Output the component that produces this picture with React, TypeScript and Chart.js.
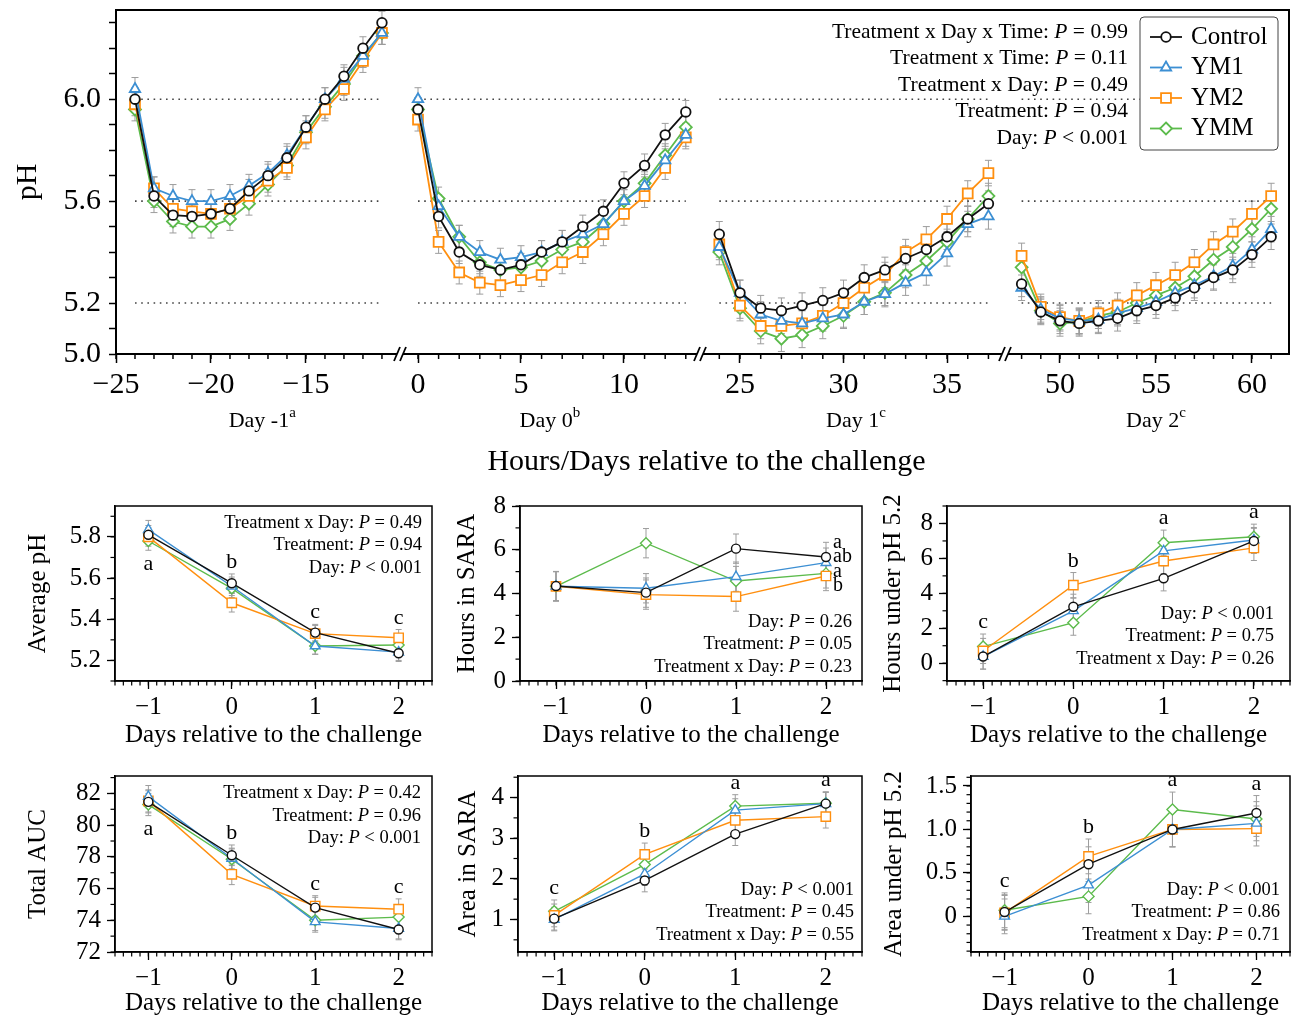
import React, { useEffect, useRef } from 'react';
import { Chart, registerables } from 'chart.js';

Chart.register(...registerables);

const FONT = '"Liberation Serif", "Times New Roman", serif';
const fnt = (size: number, italic = false) => `${italic ? 'italic ' : ''}${size}px ${FONT}`;

// ---------------- series ----------------
const seriesNames = ['Control', 'YM1', 'YM2', 'YMM'];
const seriesColors = ['#111111', '#3c8fd3', '#ff8f0f', '#5cbb4c'];
const seriesMarkers = ['circle', 'triangle', 'rect', 'rectRot'];

// ---------------- top panel: hourly pH ----------------
const hoursDayM1 = [-24, -23, -22, -21, -20, -19, -18, -17, -16, -15, -14, -13, -12, -11];
const hoursDay0 = [0, 1, 2, 3, 4, 5, 6, 7, 8, 9, 10, 11, 12, 13];
const hoursDay1 = [24, 25, 26, 27, 28, 29, 30, 31, 32, 33, 34, 35, 36, 37];
const hoursDay2 = [48, 49, 50, 51, 52, 53, 54, 55, 56, 57, 58, 59, 60, 61];

const phControlDayM1 = [6.0, 5.62, 5.545, 5.54, 5.55, 5.57, 5.64, 5.7, 5.77, 5.89, 6.0, 6.09, 6.2, 6.3];
const phYM1DayM1 = [6.04, 5.65, 5.62, 5.6, 5.6, 5.62, 5.66, 5.71, 5.78, 5.89, 6.0, 6.08, 6.17, 6.26];
const phYM2DayM1 = [5.98, 5.65, 5.57, 5.56, 5.55, 5.57, 5.62, 5.68, 5.73, 5.85, 5.96, 6.04, 6.15, 6.26];
const phYMMDayM1 = [5.96, 5.6, 5.52, 5.5, 5.5, 5.53, 5.59, 5.665, 5.74, 5.87, 5.97, 6.06, 6.17, 6.26];

const phControlDay0 = [5.96, 5.54, 5.4, 5.35, 5.33, 5.35, 5.4, 5.44, 5.5, 5.56, 5.67, 5.74, 5.86, 5.95];
const phYM1Day0 = [6.0, 5.58, 5.46, 5.4, 5.37, 5.38, 5.4, 5.44, 5.47, 5.51, 5.6, 5.66, 5.76, 5.86];
const phYM2Day0 = [5.92, 5.44, 5.32, 5.28, 5.27, 5.29, 5.31, 5.36, 5.4, 5.47, 5.55, 5.62, 5.73, 5.85];
const phYMMDay0 = [5.96, 5.61, 5.46, 5.36, 5.33, 5.34, 5.365, 5.41, 5.44, 5.51, 5.6, 5.67, 5.78, 5.89];

const phControlDay1 = [5.47, 5.24, 5.18, 5.17, 5.19, 5.21, 5.24, 5.3, 5.33, 5.375, 5.41, 5.46, 5.53, 5.59];
const phYM1Day1 = [5.42, 5.24, 5.155, 5.13, 5.12, 5.14, 5.155, 5.205, 5.235, 5.28, 5.32, 5.395, 5.51, 5.54];
const phYM2Day1 = [5.43, 5.19, 5.11, 5.11, 5.12, 5.15, 5.2, 5.26, 5.31, 5.4, 5.45, 5.53, 5.63, 5.71];
const phYMMDay1 = [5.4, 5.18, 5.09, 5.06, 5.075, 5.11, 5.15, 5.205, 5.24, 5.31, 5.365, 5.44, 5.53, 5.62];

const phControlDay2 = [5.275, 5.165, 5.13, 5.12, 5.13, 5.14, 5.17, 5.19, 5.22, 5.26, 5.3, 5.33, 5.39, 5.46];
const phYM1Day2 = [5.26, 5.175, 5.14, 5.13, 5.135, 5.16, 5.18, 5.205, 5.24, 5.27, 5.305, 5.345, 5.41, 5.49];
const phYM2Day2 = [5.385, 5.185, 5.145, 5.13, 5.16, 5.19, 5.23, 5.27, 5.31, 5.36, 5.43, 5.48, 5.55, 5.62];
const phYMMDay2 = [5.34, 5.17, 5.12, 5.125, 5.15, 5.165, 5.2, 5.23, 5.26, 5.305, 5.37, 5.42, 5.49, 5.57];

const topSE = [0.045, 0.045, 0.05, 0.05];
const topThresholds = [5.2, 5.6, 6.0];
const topYLabelled = [5.0, 5.2, 5.6, 6.0];
const dayLabels = [['Day -1', 'a'], ['Day 0', 'b'], ['Day 1', 'c'], ['Day 2', 'c']];
const dayLabelHours = [-17.3, 6.4, 30.6, 55.0];
const topStats = [
  ['Treatment x Day x Time', '=', '0.99'],
  ['Treatment x Time', '=', '0.11'],
  ['Treatment x Day', '=', '0.49'],
  ['Treatment', '=', '0.94'],
  ['Day', '<', '0.001'],
];

// ---------------- small panels ----------------
const days = [-1, 0, 1, 2];

const avgPhControl = [5.81, 5.575, 5.335, 5.235];
const avgPhYM1 = [5.835, 5.56, 5.27, 5.24];
const avgPhYM2 = [5.8, 5.48, 5.33, 5.31];
const avgPhYMM = [5.78, 5.55, 5.27, 5.275];
const avgPhSE = [0.045, 0.045, 0.04, 0.04];
const avgPhStats = [['Treatment x Day', '=', '0.49'], ['Treatment', '=', '0.94'], ['Day', '<', '0.001']];
const avgPhLetters = ['a', 'b', 'c', 'c'];
const avgPhLetterPos = ['below', 'above', 'above', 'above'];

const hoursSaraControl = [4.34, 4.04, 6.05, 5.67];
const hoursSaraYM1 = [4.33, 4.24, 4.77, 5.41];
const hoursSaraYM2 = [4.33, 3.95, 3.86, 4.8];
const hoursSaraYMM = [4.33, 6.3, 4.57, 4.92];
const hoursSaraSE = [0.67, 0.67, 0.67, 0.67];
const hoursSaraStats = [['Day', '=', '0.26'], ['Treatment', '=', '0.05'], ['Treatment x Day', '=', '0.23']];
const hoursSaraSideLetters = ['a', 'ab', 'a', 'b'];

const hoursUnderControl = [0.38, 3.23, 4.86, 7.0];
const hoursUnderYM1 = [0.38, 3.0, 6.43, 7.05];
const hoursUnderYM2 = [0.7, 4.47, 5.85, 6.6];
const hoursUnderYMM = [0.95, 2.32, 6.9, 7.24];
const hoursUnderSE = [0.72, 0.72, 0.72, 0.72];
const hoursUnderStats = [['Day', '<', '0.001'], ['Treatment', '=', '0.75'], ['Treatment x Day', '=', '0.26']];
const hoursUnderLetters = ['c', 'b', 'a', 'a'];

const aucControl = [81.47, 78.1, 74.8, 73.42];
const aucYM1 = [81.8, 77.9, 73.9, 73.48];
const aucYM2 = [81.53, 76.9, 74.9, 74.7];
const aucYMM = [81.3, 77.85, 74.0, 74.2];
const aucSE = [0.7, 0.65, 0.65, 0.65];
const aucStats = [['Treatment x Day', '=', '0.42'], ['Treatment', '=', '0.96'], ['Day', '<', '0.001']];
const aucLetters = ['a', 'b', 'c', 'c'];
const aucLetterPos = ['below', 'above', 'above', 'above'];

const areaSaraControl = [1.02, 1.96, 3.1, 3.85];
const areaSaraYM1 = [1.0, 2.12, 3.69, 3.85];
const areaSaraYM2 = [1.1, 2.6, 3.44, 3.53];
const areaSaraYMM = [1.2, 2.35, 3.79, 3.86];
const areaSaraSE = [0.28, 0.28, 0.28, 0.28];
const areaSaraStats = [['Day', '<', '0.001'], ['Treatment', '=', '0.45'], ['Treatment x Day', '=', '0.55']];
const areaSaraLetters = ['c', 'b', 'a', 'a'];

const areaUnderControl = [0.05, 0.6, 1.0, 1.19];
const areaUnderYM1 = [0.0, 0.36, 1.0, 1.07];
const areaUnderYM2 = [0.04, 0.69, 1.0, 1.01];
const areaUnderYMM = [0.07, 0.23, 1.23, 1.12];
const areaUnderSE = [0.2, 0.2, 0.2, 0.2];
const areaUnderStats = [['Day', '<', '0.001'], ['Treatment', '=', '0.86'], ['Treatment x Day', '=', '0.71']];
const areaUnderLetters = ['c', 'b', 'a', 'a'];

const allAbove = ['above', 'above', 'above', 'above'];

// ---------------- helpers ----------------
type Part = { t: string; it?: boolean; sup?: boolean };

function drawRich(ctx: any, parts: Part[], x: number, y: number, size: number, align: string) {
  const fonts = parts.map((p) => fnt(p.sup ? size * 0.68 : size, !!p.it));
  const widths = parts.map((p, i) => {
    ctx.font = fonts[i];
    return ctx.measureText(p.t).width;
  });
  const total = widths.reduce((a, b) => a + b, 0);
  let cx = align === 'right' ? x - total : align === 'center' ? x - total / 2 : x;
  ctx.textAlign = 'left';
  ctx.textBaseline = 'middle';
  ctx.fillStyle = '#000';
  parts.forEach((p, i) => {
    ctx.font = fonts[i];
    ctx.fillText(p.t, cx, p.sup ? y - size * 0.38 : y);
    cx += widths[i];
  });
}

function statParts(s: string[]): Part[] {
  return [{ t: s[0] + ': ' }, { t: 'P', it: true }, { t: ' ' + s[1] + ' ' + s[2] }];
}

function drawMarker(ctx: any, style: string, x: number, y: number, r: number) {
  ctx.beginPath();
  if (style === 'circle') {
    ctx.arc(x, y, r, 0, Math.PI * 2);
  } else if (style === 'triangle') {
    for (let i = 0; i < 3; i++) {
      const a = (i * 2 * Math.PI) / 3;
      const px = x + Math.sin(a) * r;
      const py = y - Math.cos(a) * r;
      if (i === 0) ctx.moveTo(px, py);
      else ctx.lineTo(px, py);
    }
    ctx.closePath();
  } else if (style === 'rect') {
    const s = r * Math.SQRT1_2;
    ctx.rect(x - s, y - s, 2 * s, 2 * s);
  } else {
    ctx.moveTo(x, y - r);
    ctx.lineTo(x + r, y);
    ctx.lineTo(x, y + r);
    ctx.lineTo(x - r, y);
    ctx.closePath();
  }
  ctx.fillStyle = '#fff';
  ctx.fill();
  ctx.stroke();
}

function drawErrorBars(chart: any, cap: number) {
  const ctx = chart.ctx;
  ctx.save();
  ctx.strokeStyle = '#9d9d9d';
  ctx.lineWidth = 1;
  chart.data.datasets.forEach((ds: any, i: number) => {
    if (!ds.errors) return;
    const meta = chart.getDatasetMeta(i);
    const ys = chart.scales[meta.yAxisID];
    meta.data.forEach((pt: any, j: number) => {
      const v = ds.data[j].y;
      const e = ds.errors[j];
      const y1 = ys.getPixelForValue(v + e);
      const y2 = ys.getPixelForValue(v - e);
      ctx.beginPath();
      ctx.moveTo(pt.x, y1);
      ctx.lineTo(pt.x, y2);
      ctx.moveTo(pt.x - cap, y1);
      ctx.lineTo(pt.x + cap, y1);
      ctx.moveTo(pt.x - cap, y2);
      ctx.lineTo(pt.x + cap, y2);
      ctx.stroke();
    });
  });
  ctx.restore();
}

function minorTicksX(ctx: any, scale: any, y: number, step: number, len: number) {
  const start = Math.ceil(scale.min / step - 1e-9);
  for (let i = start; i * step <= scale.max + 1e-9; i++) {
    const px = scale.getPixelForValue(i * step);
    ctx.beginPath();
    ctx.moveTo(px, y);
    ctx.lineTo(px, y + len);
    ctx.stroke();
  }
}

function minorTicksY(ctx: any, scale: any, x: number, step: number, len: number) {
  const start = Math.ceil(scale.min / step - 1e-9);
  for (let i = start; i * step <= scale.max + 1e-9; i++) {
    const py = scale.getPixelForValue(i * step);
    ctx.beginPath();
    ctx.moveTo(x, py);
    ctx.lineTo(x - len, py);
    ctx.stroke();
  }
}

const fmtSigned = (v: number) => (v < 0 ? '\u2212' + Math.abs(v) : String(v));

const fixY = (w: number) => (sc: any) => {
  sc.width = w;
  sc.paddingTop = 0;
  sc.paddingBottom = 0;
};
const fixX = (h: number) => (sc: any) => {
  sc.height = h;
  sc.paddingLeft = 0;
  sc.paddingRight = 0;
};

// ---------------- top chart ----------------
const segHours = [hoursDayM1, hoursDay0, hoursDay1, hoursDay2];
const segValues = [
  [phControlDayM1, phYM1DayM1, phYM2DayM1, phYMMDayM1],
  [phControlDay0, phYM1Day0, phYM2Day0, phYMMDay0],
  [phControlDay1, phYM1Day1, phYM2Day1, phYMMDay1],
  [phControlDay2, phYM1Day2, phYM2Day2, phYMMDay2],
];
const segAxes = [
  { min: -25, max: -10.05, weight: 284 },
  { min: -0.874, max: 13.69, weight: 300 },
  { min: 23.068, max: 37.8, weight: 305 },
  { min: 47.135, max: 61.93, weight: 284 },
];
const topRadius = [4.8, 6, 7, 6];

function topConfig(): any {
  const datasets: any[] = [];
  segHours.forEach((hrs, s) => {
    segValues[s].forEach((vals, k) => {
      datasets.push({
        label: seriesNames[k],
        data: hrs.map((h, i) => ({ x: h, y: vals[i] })),
        errors: hrs.map(() => topSE[s]),
        xAxisID: 'x' + s,
        yAxisID: 'y',
        borderColor: seriesColors[k],
        backgroundColor: '#fff',
        pointBorderColor: seriesColors[k],
        pointBackgroundColor: '#fff',
        pointStyle: seriesMarkers[k],
        pointRadius: topRadius[k],
        pointBorderWidth: 1.8,
        borderWidth: 1.8,
        tension: 0,
        order: k,
      });
    });
    topThresholds.forEach((t) => {
      datasets.push({
        data: [{ x: hrs[0], y: t }, { x: hrs[hrs.length - 1], y: t }],
        xAxisID: 'x' + s,
        yAxisID: 'y',
        borderColor: '#444',
        borderWidth: 1.6,
        borderDash: [1.6, 4.6],
        pointRadius: 0,
        order: 20,
      });
    });
  });

  const scales: any = {
    y: {
      position: 'left',
      min: 5.0,
      max: 6.35,
      afterFit: fixY(116),
      border: { display: true, color: '#000', width: 2 },
      grid: { drawOnChartArea: false, tickLength: 7, tickWidth: 1.5, tickColor: '#000' },
      ticks: {
        stepSize: 0.1,
        maxTicksLimit: 1000,
        autoSkip: false,
        includeBounds: false,
        color: '#000',
        padding: 8,
        font: { family: FONT, size: 30 },
        callback: (v: any) => (topYLabelled.some((t) => Math.abs(t - v) < 1e-6) ? Number(v).toFixed(1) : ''),
      },
      title: { display: true, text: 'pH', color: '#000', font: { family: FONT, size: 30 }, padding: { top: 10, bottom: 0 } },
    },
  };
  segAxes.forEach((a, s) => {
    scales['x' + s] = {
      type: 'linear',
      position: 'bottom',
      stack: 'hours',
      stackWeight: a.weight,
      min: a.min,
      max: a.max,
      offset: false,
      afterFit: fixX(131),
      border: { display: true, color: '#000', width: 2 },
      grid: { drawOnChartArea: false, tickLength: 9, tickWidth: 1.5, tickColor: '#000' },
      ticks: {
        stepSize: 5,
        maxTicksLimit: 1000,
        includeBounds: false,
        autoSkip: false,
        maxRotation: 0,
        color: '#000',
        padding: 4,
        font: { family: FONT, size: 30 },
        callback: (v: any) => fmtSigned(Number(v)),
      },
    };
  });

  const decor = {
    id: 'topDecor',
    beforeDatasetsDraw(chart: any) {
      drawErrorBars(chart, 3.5);
    },
    afterDraw(chart: any) {
      const ctx = chart.ctx;
      const a = chart.chartArea;
      ctx.save();
      ctx.strokeStyle = '#000';
      ctx.lineWidth = 2;
      ctx.strokeRect(a.left, a.top, a.right - a.left, a.bottom - a.top);
      ctx.lineWidth = 1.5;
      for (let s = 0; s < 4; s++) minorTicksX(ctx, chart.scales['x' + s], a.bottom, 1, 5);
      // axis breaks
      for (let s = 0; s < 3; s++) {
        const bx = chart.scales['x' + s].right;
        ctx.fillStyle = '#fff';
        ctx.fillRect(bx - 3, a.bottom - 3, 6, 6);
        ctx.strokeStyle = '#000';
        ctx.lineWidth = 1.8;
        [-3, 3].forEach((dx) => {
          ctx.beginPath();
          ctx.moveTo(bx + dx - 3, a.bottom + 7);
          ctx.lineTo(bx + dx + 3, a.bottom - 7);
          ctx.stroke();
        });
      }
      // day labels
      dayLabels.forEach((d, s) => {
        const x = chart.scales['x' + s].getPixelForValue(dayLabelHours[s]);
        drawRich(ctx, [{ t: d[0] }, { t: d[1], sup: true }], x, 421, 22, 'center');
      });
      drawRich(ctx, [{ t: 'Hours/Days relative to the challenge' }], (a.left + a.right) / 2 + 4, 462, 30, 'center');
      // legend
      const lw = 138;
      const lh = 133;
      const lx = a.right - 11 - lw;
      const ly = a.top + 7;
      ctx.fillStyle = '#fff';
      ctx.strokeStyle = '#444';
      ctx.lineWidth = 1;
      ctx.beginPath();
      ctx.roundRect(lx, ly, lw, lh, 4);
      ctx.fill();
      ctx.stroke();
      seriesNames.forEach((n, k) => {
        const y = ly + 20 + k * 30.5;
        ctx.strokeStyle = seriesColors[k];
        ctx.lineWidth = 1.8;
        ctx.beginPath();
        ctx.moveTo(lx + 10, y);
        ctx.lineTo(lx + 42, y);
        ctx.stroke();
        drawMarker(ctx, seriesMarkers[k], lx + 26, y, topRadius[k]);
        drawRich(ctx, [{ t: n }], lx + 51, y, 25, 'left');
      });
      // statistics
      topStats.forEach((st, i) => {
        drawRich(ctx, statParts(st), lx - 12, a.top + 22 + i * 26.5, 21.5, 'right');
      });
      ctx.restore();
    },
  };

  return {
    type: 'line',
    data: { datasets },
    options: {
      animation: false,
      responsive: false,
      events: [],
      layout: { padding: { top: 10, right: 9, left: 0, bottom: 0 } },
      plugins: { legend: { display: false }, tooltip: { enabled: false } },
      scales,
    },
    plugins: [decor],
  };
}

// ---------------- small charts ----------------
type Small = {
  canvas: number[];
  area: number[];
  yTitle: string;
  yTitleX: number;
  yMin: number;
  yMax: number;
  yStep: number;
  yMinor: number;
  yFmt: (v: number) => string;
  values: number[][];
  se: number[];
  letters?: string[];
  letterPos?: string[];
  sideLetters?: string[];
  stats: string[][];
  statsAnchor: string;
  statsDx: number;
  statsDy: number;
  xTitleCenterY: number;
};

const fmt1 = (v: number) => Number(v).toFixed(1);
const fmtInt = (v: number) => String(Math.round(v));
const fmtHalf = (v: number) => (Math.abs(v) < 1e-9 ? '0' : Number(v).toFixed(1));

const smallPanels: Small[] = [
  {
    canvas: [0, 490, 440, 270], area: [115, 436, 506, 681], yTitle: 'Average pH', yTitleX: 38,
    yMin: 5.1, yMax: 5.95, yStep: 0.2, yMinor: 0.1, yFmt: fmt1,
    values: [avgPhControl, avgPhYM1, avgPhYM2, avgPhYMM], se: avgPhSE,
    letters: avgPhLetters, letterPos: avgPhLetterPos,
    stats: avgPhStats, statsAnchor: 'top', statsDx: 10, statsDy: 17, xTitleCenterY: 735,
  },
  {
    canvas: [440, 490, 430, 270], area: [520, 867, 506, 681], yTitle: 'Hours in SARA', yTitleX: 467,
    yMin: 0, yMax: 8, yStep: 2, yMinor: 1, yFmt: fmtInt,
    values: [hoursSaraControl, hoursSaraYM1, hoursSaraYM2, hoursSaraYMM], se: hoursSaraSE,
    sideLetters: hoursSaraSideLetters,
    stats: hoursSaraStats, statsAnchor: 'bottom', statsDx: 10, statsDy: 14, xTitleCenterY: 735,
  },
  {
    canvas: [870, 490, 428, 270], area: [947, 1293, 506, 681], yTitle: 'Hours under pH 5.2', yTitleX: 893,
    yMin: -1.02, yMax: 9.0, yStep: 2, yMinor: 1, yFmt: fmtInt,
    values: [hoursUnderControl, hoursUnderYM1, hoursUnderYM2, hoursUnderYMM], se: hoursUnderSE,
    letters: hoursUnderLetters, letterPos: allAbove,
    stats: hoursUnderStats, statsAnchor: 'bottom', statsDx: 16, statsDy: 22, xTitleCenterY: 735,
  },
  {
    canvas: [0, 762, 440, 256], area: [115, 437, 776, 952], yTitle: 'Total AUC', yTitleX: 38,
    yMin: 72, yMax: 83.1, yStep: 2, yMinor: 1, yFmt: fmtInt,
    values: [aucControl, aucYM1, aucYM2, aucYMM], se: aucSE,
    letters: aucLetters, letterPos: aucLetterPos,
    stats: aucStats, statsAnchor: 'top', statsDx: 11, statsDy: 17.5, xTitleCenterY: 1004,
  },
  {
    canvas: [440, 762, 430, 256], area: [518, 867, 776, 952], yTitle: 'Area in SARA', yTitleX: 468,
    yMin: 0.2, yMax: 4.53, yStep: 1, yMinor: 0.5, yFmt: fmtInt,
    values: [areaSaraControl, areaSaraYM1, areaSaraYM2, areaSaraYMM], se: areaSaraSE,
    letters: areaSaraLetters, letterPos: allAbove,
    stats: areaSaraStats, statsAnchor: 'bottom', statsDx: 8, statsDy: 17, xTitleCenterY: 1004,
  },
  {
    canvas: [870, 762, 428, 256], area: [971, 1293, 776, 952], yTitle: 'Area under pH 5.2', yTitleX: 894,
    yMin: -0.41, yMax: 1.615, yStep: 0.5, yMinor: 0.1, yFmt: fmtHalf,
    values: [areaUnderControl, areaUnderYM1, areaUnderYM2, areaUnderYMM], se: areaUnderSE,
    letters: areaUnderLetters, letterPos: allAbove,
    stats: areaUnderStats, statsAnchor: 'bottom', statsDx: 10, statsDy: 17, xTitleCenterY: 1004,
  },
];

const smallRadius = [4.5, 5.6, 6.6, 5.5];

function smallConfig(sp: Small): any {
  const [cl, ct, cw, chh] = sp.canvas;
  const [al, ar, at, ab] = sp.area;
  const datasets = sp.values.map((vals, k) => ({
    label: seriesNames[k],
    data: days.map((d, i) => ({ x: d, y: vals[i] })),
    errors: sp.se,
    borderColor: seriesColors[k],
    backgroundColor: '#fff',
    pointBorderColor: seriesColors[k],
    pointBackgroundColor: '#fff',
    pointStyle: seriesMarkers[k],
    pointRadius: smallRadius[k],
    pointBorderWidth: 1.4,
    borderWidth: 1.4,
    tension: 0,
    order: k,
  }));

  const decor = {
    id: 'smallDecor',
    beforeDatasetsDraw(chart: any) {
      drawErrorBars(chart, 3);
    },
    afterDraw(chart: any) {
      const ctx = chart.ctx;
      const a = chart.chartArea;
      const xs = chart.scales.x;
      const ys = chart.scales.y;
      ctx.save();
      ctx.strokeStyle = '#000';
      ctx.lineWidth = 1.5;
      ctx.strokeRect(a.left, a.top, a.right - a.left, a.bottom - a.top);
      ctx.lineWidth = 1.2;
      minorTicksX(ctx, xs, a.bottom, 0.1, 4.5);
      minorTicksY(ctx, ys, a.left, sp.yMinor, 4.5);
      // significance letters
      if (sp.letters && sp.letterPos) {
        days.forEach((d, j) => {
          const x = xs.getPixelForValue(d);
          const tops = sp.values.map((v) => v[j] + sp.se[j]);
          const bots = sp.values.map((v) => v[j] - sp.se[j]);
          ctx.font = fnt(22);
          ctx.fillStyle = '#000';
          ctx.textAlign = 'center';
          if (sp.letterPos![j] === 'above') {
            ctx.textBaseline = 'alphabetic';
            ctx.fillText(sp.letters![j], x, ys.getPixelForValue(Math.max(...tops)) - 6);
          } else {
            ctx.textBaseline = 'top';
            ctx.fillText(sp.letters![j], x, ys.getPixelForValue(Math.min(...bots)) + 3);
          }
        });
      }
      if (sp.sideLetters) {
        const j = days.length - 1;
        const x = xs.getPixelForValue(days[j]) + 7;
        const top = ys.getPixelForValue(Math.max(...sp.values.map((v) => v[j] + sp.se[j])));
        sp.sideLetters.forEach((t, i) => {
          drawRich(ctx, [{ t }], x, top + i * 14.5, 20, 'left');
        });
      }
      // statistics
      const n = sp.stats.length;
      sp.stats.forEach((st, i) => {
        const y = sp.statsAnchor === 'top' ? a.top + sp.statsDy + i * 22.5 : a.bottom - sp.statsDy - (n - 1 - i) * 22.5;
        drawRich(ctx, statParts(st), a.right - sp.statsDx, y, 18.5, 'right');
      });
      ctx.restore();
    },
  };

  const titleLine = 25 * 1.2;
  return {
    type: 'line',
    data: { datasets },
    options: {
      animation: false,
      responsive: false,
      events: [],
      layout: { padding: { top: at - ct, right: cl + cw - ar, left: 0, bottom: 0 } },
      plugins: { legend: { display: false }, tooltip: { enabled: false } },
      scales: {
        x: {
          type: 'linear',
          min: -1.4,
          max: 2.4,
          offset: false,
          afterFit: fixX(ct + chh - ab),
          border: { display: true, color: '#000', width: 1.5 },
          grid: { drawOnChartArea: false, tickLength: 8, tickWidth: 1.3, tickColor: '#000' },
          ticks: {
            stepSize: 1,
            maxTicksLimit: 1000,
            includeBounds: false,
            autoSkip: false,
            maxRotation: 0,
            color: '#000',
            padding: 3,
            font: { family: FONT, size: 25 },
            callback: (v: any) => fmtSigned(Number(v)),
          },
          title: {
            display: true,
            text: 'Days relative to the challenge',
            color: '#000',
            font: { family: FONT, size: 25 },
            padding: { top: 0, bottom: Math.max(0, ct + chh - titleLine / 2 - sp.xTitleCenterY) },
          },
        },
        y: {
          position: 'left',
          min: sp.yMin,
          max: sp.yMax,
          afterFit: fixY(al - cl),
          border: { display: true, color: '#000', width: 1.5 },
          grid: { drawOnChartArea: false, tickLength: 8, tickWidth: 1.3, tickColor: '#000' },
          ticks: {
            stepSize: sp.yStep,
            maxTicksLimit: 1000,
            includeBounds: false,
            autoSkip: false,
            color: '#000',
            padding: 6,
            font: { family: FONT, size: 25 },
            callback: (v: any) => sp.yFmt(Number(v)),
          },
          title: {
            display: true,
            text: sp.yTitle,
            color: '#000',
            font: { family: FONT, size: 25 },
            padding: { top: Math.max(0, sp.yTitleX - cl - titleLine / 2), bottom: 0 },
          },
        },
      },
    },
    plugins: [decor],
  };
}

export default function App() {
  const topRef = useRef<HTMLCanvasElement | null>(null);
  const smallRefs = useRef<(HTMLCanvasElement | null)[]>([]);

  useEffect(() => {
    const charts: Chart[] = [];
    if (topRef.current) charts.push(new Chart(topRef.current, topConfig()));
    smallPanels.forEach((sp, i) => {
      const c = smallRefs.current[i];
      if (c) charts.push(new Chart(c, smallConfig(sp)));
    });
    return () => charts.forEach((c) => c.destroy());
  }, []);

  return (
    <div style={{ position: 'absolute', left: 0, top: 0, width: 1298, height: 1018, background: '#fff', overflow: 'hidden' }}>
      <canvas ref={topRef} width={1298} height={485} style={{ position: 'absolute', left: 0, top: 0 }} />
      {smallPanels.map((sp, i) => (
        <canvas
          key={i}
          ref={(el) => {
            smallRefs.current[i] = el;
          }}
          width={sp.canvas[2]}
          height={sp.canvas[3]}
          style={{ position: 'absolute', left: sp.canvas[0], top: sp.canvas[1] }}
        />
      ))}
    </div>
  );
}
